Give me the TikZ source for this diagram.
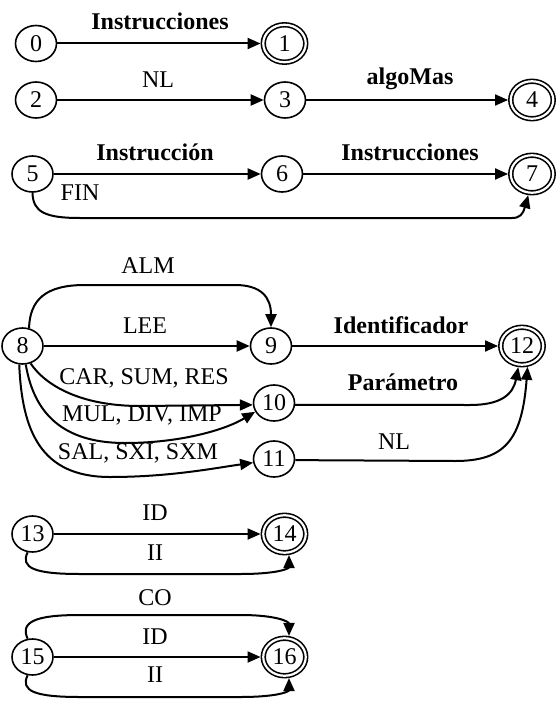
\documentclass[tikz,border=0pt]{standalone}
\usepackage{fontspec}
\setmainfont{Liberation Serif}
\usetikzlibrary{arrows.meta,shapes.geometric}
\begin{document}
\begin{tikzpicture}[x=1pt,y=-1pt,
  every node/.style={font=\fontsize{24}{28}\selectfont},
  state/.style={ellipse,draw,line width=1.6pt,minimum width=41pt,minimum height=36pt,inner sep=0pt},
  accept/.style={ellipse,draw,line width=1.6pt,double,double distance=2.2pt,
    minimum width=42.5pt,minimum height=37.5pt,inner sep=0pt,outer sep=2.7pt},
  trans/.style={line width=2pt,-{Triangle[length=13pt,width=11pt]}},
  lbl/.style={inner sep=1pt},
  blbl/.style={inner sep=1pt,font=\fontsize{24}{28}\selectfont\bfseries}]
\useasboundingbox (0,0) rectangle (556,709);

% states
\node[state]  (n0)  at (36,43.5)   {0};
\node[accept] (n1)  at (284.5,43.5){1};
\node[state]  (n2)  at (36,100)    {2};
\node[state]  (n3)  at (285,100)   {3};
\node[accept] (n4)  at (532,100)   {4};
\node[state]  (n5)  at (32.5,174)  {5};
\node[state]  (n6)  at (282,174)   {6};
\node[accept] (n7)  at (532,174)   {7};
\node[state]  (n8)  at (22.5,346)  {8};
\node[state]  (n9)  at (271,346)   {9};
\node[state]  (n10) at (274,403)   {10};
\node[state]  (n11) at (274,459)   {11};
\node[accept] (n12) at (522,346)   {12};
\node[state]  (n13) at (32.5,534)  {13};
\node[accept] (n14) at (284.5,534) {14};
\node[state]  (n15) at (32.5,657)  {15};
\node[accept] (n16) at (284.5,657) {16};

% transitions
\draw[trans] (n0) -- (n1);
\draw[trans] (n2) -- (n3);
\draw[trans] (n3) -- (n4);
\draw[trans] (n5) -- (n6);
\draw[trans] (n6) -- (n7);
\draw[trans] (n5.-90) .. controls (33,212) and (45,218) .. (80,218) -- (512,218)
  .. controls (520,218) and (523,214) .. (n7.-100);

\draw[trans] (n8.70) .. controls (30,300) and (45,285) .. (85,285) -- (235,285)
  .. controls (262,285) and (271,298) .. (n9.north);
\draw[trans] (n8) -- (n9);
\draw[trans] (n8.-65) .. controls (45,385) and (80,406) .. (140,406) -- (n10.185);
\draw[trans] (n8.-80) .. controls (35,420) and (70,443) .. (125,443)
  .. controls (180,443) and (225,430) .. (n10.205);
\draw[trans] (n8.-100) .. controls (22,430) and (40,477) .. (110,477)
  .. controls (170,477) and (215,468) .. (n11.190);
\draw[trans] (n9) -- (n12);
\draw[trans] (n10.-5) -- (470,405) .. controls (500,405) and (513,395) .. (n12.-100);
\draw[trans] (n11.-3) -- (455,461) .. controls (505,461) and (522,440) .. (n12.-75);

\draw[trans] (n13) -- (n14);
\draw[trans] (n13.-105) .. controls (20,568) and (35,574) .. (80,574) -- (240,574)
  .. controls (280,574) and (289,568) .. (n14.-78);
\draw[trans] (n15.105) .. controls (20,622) and (35,615) .. (80,615) -- (240,615)
  .. controls (278,615) and (289,622) .. (n16.78);
\draw[trans] (n15) -- (n16);
\draw[trans] (n15.-105) .. controls (20,691) and (35,697) .. (80,697) -- (240,697)
  .. controls (280,697) and (289,691) .. (n16.-78);

% transition labels
\node[blbl] (t01)  at (160,21)  {Instrucciones};
\node[lbl]  (t23)  at (158,80)  {NL};
\node[blbl] (t34)  at (410,79)  {algoMas};
\node[blbl] (t56)  at (155,152) {Instrucción};
\node[blbl] (t67)  at (410,152) {Instrucciones};
\node[lbl]  (t57)  at (80,193)  {FIN};
\node[lbl]  (t89a) at (148,266) {ALM};
\node[lbl]  (t89b) at (145,326) {LEE};
\node[lbl]  (t810a) at (144,378) {CAR, SUM, RES};
\node[lbl]  (t810b) at (142,415) {MUL, DIV, IMP};
\node[lbl]  (t811) at (138,453) {SAL, SXI, SXM};
\node[blbl] (t912) at (401,325) {Identificador};
\node[blbl] (t1012) at (403,382) {Parámetro};
\node[lbl]  (t1112) at (394,442) {NL};
\node[lbl]  (t1314a) at (155,513) {ID};
\node[lbl]  (t1314b) at (155,553) {II};
\node[lbl]  (t1516a) at (155,598) {CO};
\node[lbl]  (t1516b) at (155,637) {ID};
\node[lbl]  (t1516c) at (155,675) {II};
\end{tikzpicture}
\end{document}
